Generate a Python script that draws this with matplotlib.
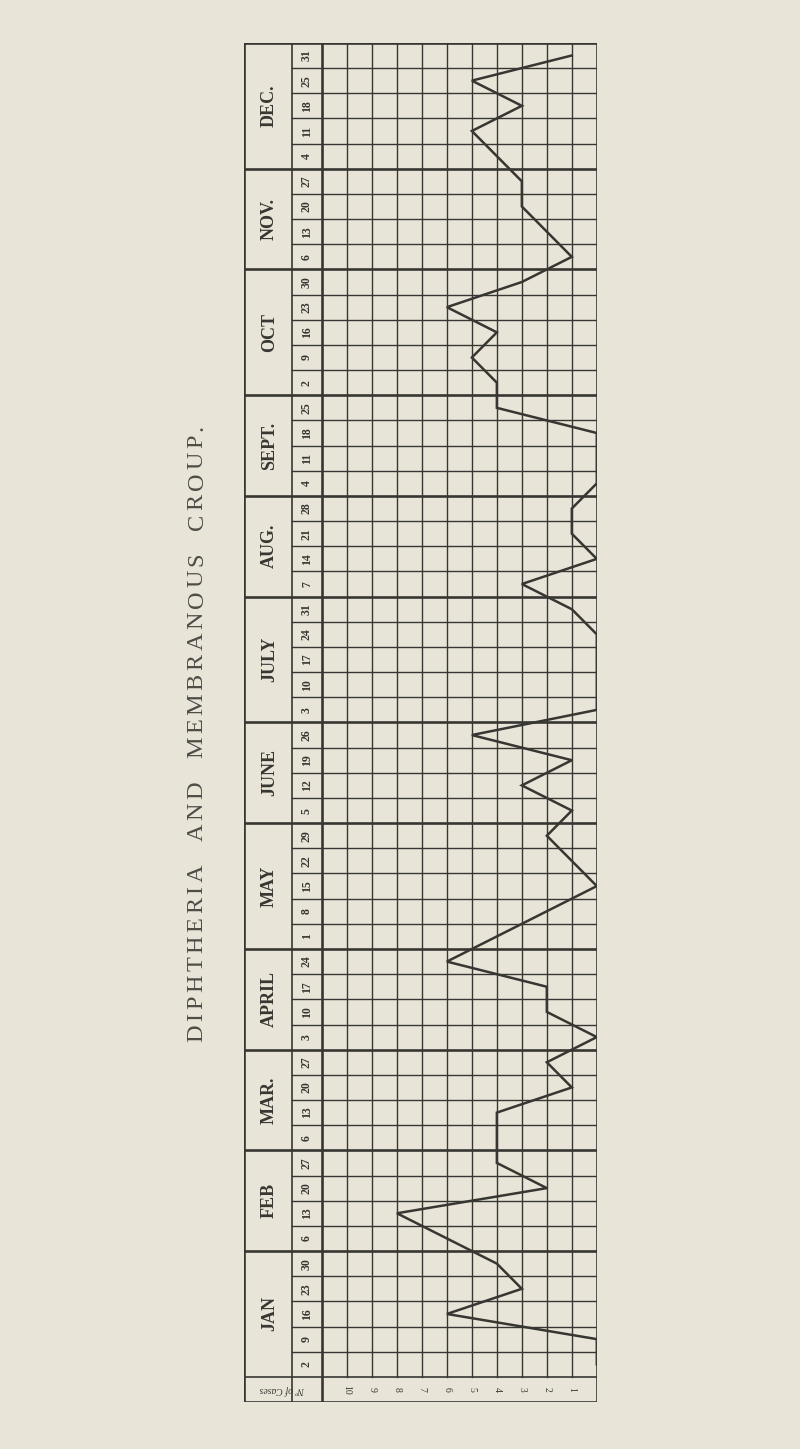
"""Weekly cases of diphtheria and membranous croup, drawn sideways like the printed chart."""

import matplotlib.pyplot as plt

month_names = ["JAN", "FEB", "MAR.", "APRIL", "MAY", "JUNE", "JULY",
               "AUG.", "SEPT.", "OCT", "NOV.", "DEC."]
month_weeks = [5, 4, 4, 4, 5, 4, 5, 4, 4, 5, 4, 5]
week_labels = ["2", "9", "16", "23", "30",
               "6", "13", "20", "27",
               "6", "13", "20", "27",
               "3", "10", "17", "24",
               "1", "8", "15", "22", "29",
               "5", "12", "19", "26",
               "3", "10", "17", "24", "31",
               "7", "14", "21", "28",
               "4", "11", "18", "25",
               "2", "9", "16", "23", "30",
               "6", "13", "20", "27",
               "4", "11", "18", "25", "31"]
cases = [0, 0, 6, 3, 4,
         6, 8, 2, 4,
         4, 4, 1, 2,
         0, 2, 2, 6,
         4, 2, 0, 1, 2,
         1, 3, 1, 5,
         0, 0, 0, 0, 1,
         3, 0, 1, 1,
         0, 0, 0, 4,
         4, 5, 4, 6, 3,
         1, 2, 3, 3,
         4, 5, 3, 5, 1]
value_ticks = [10, 9, 8, 7, 6, 5, 4, 3, 2, 1]
title = "DIPHTHERIA AND MEMBRANOUS CROUP."

PAPER = "#e8e5d8"
INK = "#383632"

plt.rcParams["font.family"] = ["Liberation Serif", "DejaVu Serif"]

fig = plt.figure(figsize=(8, 14.49), dpi=100, facecolor=PAPER)
ax = fig.add_axes([0.305, 0.0324, 0.441, 0.938])
ax.set_facecolor(PAPER)
ax.set_xlim(14.12, 0)
ax.set_ylim(-1, 53)
ax.axis("off")

n_weeks = len(cases)
grid_left = 11
week_col = 12.2
outer_left = 14.12

# value columns
for v in range(1, grid_left):
    ax.plot([v, v], [0, n_weeks], color=INK, lw=1.0)
ax.plot([grid_left, grid_left], [-1, n_weeks], color=INK, lw=1.9)
ax.plot([week_col, week_col], [-1, n_weeks], color=INK, lw=1.2)

# week rows and month boundaries
bounds = [0]
for n in month_weeks:
    bounds.append(bounds[-1] + n)
for w in range(1, n_weeks):
    if w in bounds:
        ax.plot([outer_left, 0], [w, w], color=INK, lw=1.9)
    else:
        ax.plot([week_col, 0], [w, w], color=INK, lw=1.0)
ax.plot([outer_left, 0], [0, 0], color=INK, lw=1.2)

# outer frame
ax.plot([outer_left, 0, 0, outer_left, outer_left], [-1, -1, n_weeks, n_weeks, -1],
        color=INK, lw=1.9)

# labels
for i, name in enumerate(month_names):
    mid = (bounds[i] + bounds[i + 1]) / 2
    ax.text(13.1, mid, name, rotation=90, ha="center", va="center",
            fontsize=13, color=INK, fontweight="bold")
for w, lab in enumerate(week_labels):
    ax.text(11.6, w + 0.5, lab, rotation=90, ha="center", va="center",
            fontsize=8.5, color=INK, fontweight="bold")
for v in value_ticks:
    ax.text(v, -0.5, str(v), rotation=-90, ha="center", va="center",
            fontsize=7, color=INK)
ax.text(12.6, -0.5, "Nº of Cases", rotation=180, ha="center", va="center",
        fontsize=7, color=INK, style="italic")

# weekly cases
week_pos = [w + 0.5 for w in range(n_weeks)]
ax.plot(cases, week_pos, color=INK, lw=1.8, solid_joinstyle="miter")

# title, spaced out letter by letter to fill the printed length
renderer = fig.canvas.get_renderer()
title_x = 197
title_bottom, title_top = 1042, 425
glyphs = []
for ch in title:
    t = fig.text(0, 0, ch if ch != " " else "II", fontsize=17.5, color="#4e4c47")
    glyphs.append((t, t.get_window_extent(renderer).width, ch))
natural = sum(w for _, w, _ in glyphs)
track = (title_bottom - title_top - natural) / (len(glyphs) - 1)
y = title_bottom
for t, w, ch in glyphs:
    if ch == " ":
        t.remove()
    else:
        t.set_rotation(90)
        t.set_ha("center")
        t.set_va("center")
        t.set_position((title_x / 800, 1 - (y - w / 2) / 1449))
    y -= w + track

fig.savefig("out.png", dpi=100, facecolor=PAPER)
